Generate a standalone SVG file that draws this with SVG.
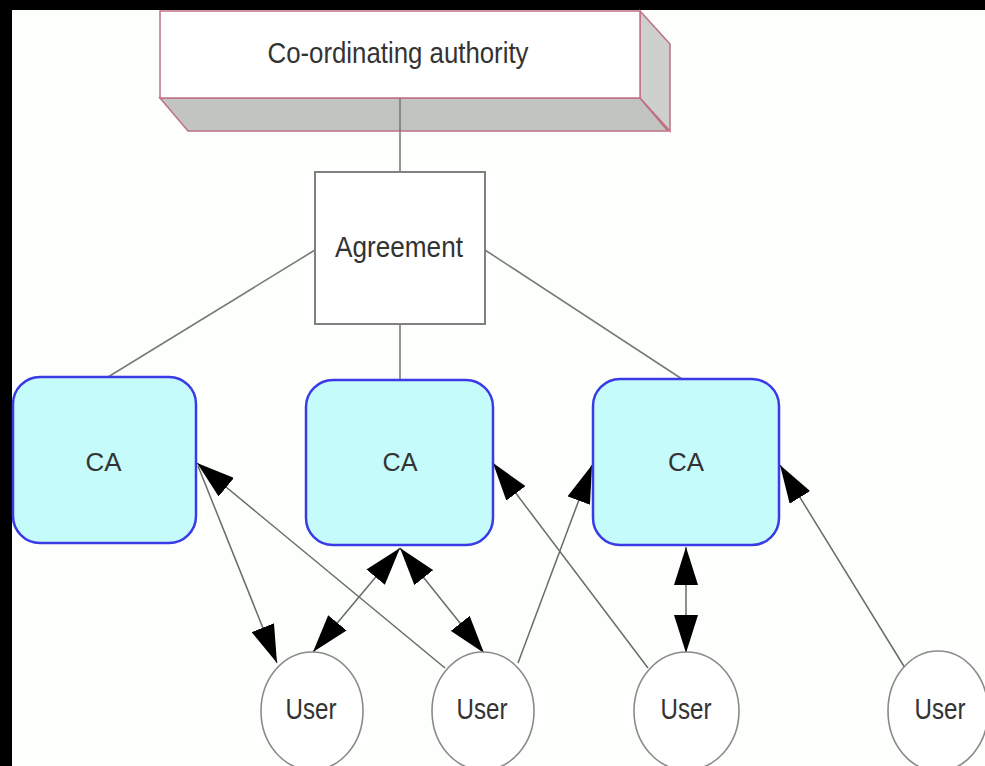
<svg xmlns="http://www.w3.org/2000/svg" width="985" height="766" viewBox="0 0 985 766">
  <style>
    .lbl { font-family: "Liberation Sans", Arial, sans-serif; fill: #333333; text-anchor: middle; }
    .ca-box { fill: #c6fbfb; stroke: #3a3ae6; stroke-width: 2.5; }
    .user { fill: #ffffff; stroke: #8a8a8a; stroke-width: 1.6; }
    .link { stroke: #7a7a7a; stroke-width: 1.6; fill: none; }
    .arrow { stroke: #6a6a6a; stroke-width: 1.5; fill: none; }
    .end { marker-end: url(#head); }
    .both { marker-start: url(#head); marker-end: url(#head); }
  </style>
  <defs>
    <marker id="head" markerUnits="userSpaceOnUse" markerWidth="38" markerHeight="24" refX="38" refY="12" orient="auto-start-reverse">
      <path d="M0,0 L38,12 L0,24 z" fill="#000000"/>
    </marker>
  </defs>

  <!-- frame -->
  <rect x="0" y="0" width="985" height="766" fill="#000000"/>
  <rect x="12" y="10" width="973" height="756" fill="#fcfffc"/>

  <!-- connectors -->
  <g id="connectors">
    <line class="link" x1="400" y1="98" x2="400" y2="172"/>
    <line class="link" x1="315" y1="250" x2="108" y2="377"/>
    <line class="link" x1="400" y1="324" x2="400" y2="380"/>
    <line class="link" x1="485" y1="250" x2="682" y2="379"/>

    <line class="arrow end" x1="198" y1="466" x2="277" y2="663"/>
    <line class="arrow end" x1="445" y1="668" x2="197" y2="463"/>
    <line class="arrow both" x1="400" y1="548" x2="313" y2="652"/>
    <line class="arrow both" x1="400" y1="548" x2="484" y2="653"/>
    <line class="arrow end" x1="518" y1="663" x2="592" y2="465"/>
    <line class="arrow end" x1="648" y1="668" x2="493" y2="463"/>
    <line class="arrow both" x1="686" y1="547" x2="686" y2="653"/>
    <line class="arrow end" x1="905" y1="668" x2="780" y2="465"/>
  </g>

  <!-- co-ordinating authority: raised box -->
  <g id="coordinating-authority">
    <polygon points="160,98 640,98 668,131 188,131" fill="#c2c4c2" stroke="#c07080" stroke-width="1.5"/>
    <polygon points="640,11 670,44 670,131 640,98" fill="#cdd0cd" stroke="#c07080" stroke-width="1.5"/>
    <line x1="640" y1="98" x2="668" y2="131" stroke="#c07080" stroke-width="1.2"/>
    <rect x="160" y="11" width="480" height="87" fill="#ffffff" stroke="#c07080" stroke-width="1.5"/>
    <text class="lbl" x="398" y="63" font-size="30" textLength="261" lengthAdjust="spacingAndGlyphs">Co-ordinating authority</text>
  </g>
  <line x1="400" y1="98" x2="400" y2="131" stroke="#7a7a7a" stroke-width="1.6"/>

  <g id="agreement">
    <rect x="315" y="172" width="170" height="152" fill="#ffffff" stroke="#808080" stroke-width="2"/>
    <text class="lbl" x="399" y="257" font-size="30" textLength="128" lengthAdjust="spacingAndGlyphs">Agreement</text>
  </g>

  <g id="ca-1">
    <rect class="ca-box" x="13" y="377" width="183" height="166" rx="27"/>
    <text class="lbl" x="103.5" y="471" font-size="26" textLength="36" lengthAdjust="spacingAndGlyphs">CA</text>
  </g>
  <g id="ca-2">
    <rect class="ca-box" x="306" y="380" width="187" height="165" rx="27"/>
    <text class="lbl" x="400" y="471" font-size="26" textLength="35" lengthAdjust="spacingAndGlyphs">CA</text>
  </g>
  <g id="ca-3">
    <rect class="ca-box" x="593" y="379" width="186" height="166" rx="27"/>
    <text class="lbl" x="686" y="471" font-size="26" textLength="36" lengthAdjust="spacingAndGlyphs">CA</text>
  </g>

  <g id="user-1">
    <ellipse class="user" cx="312" cy="711" rx="51" ry="59"/>
    <text class="lbl" x="311" y="719" font-size="29" textLength="51" lengthAdjust="spacingAndGlyphs">User</text>
  </g>
  <g id="user-2">
    <ellipse class="user" cx="483" cy="711" rx="51" ry="59"/>
    <text class="lbl" x="482" y="719" font-size="29" textLength="51" lengthAdjust="spacingAndGlyphs">User</text>
  </g>
  <g id="user-3">
    <ellipse class="user" cx="686.5" cy="711" rx="52.5" ry="59"/>
    <text class="lbl" x="686" y="719" font-size="29" textLength="51" lengthAdjust="spacingAndGlyphs">User</text>
  </g>
  <g id="user-4">
    <ellipse class="user" cx="938" cy="711" rx="50" ry="60"/>
    <text class="lbl" x="940" y="719" font-size="29" textLength="51" lengthAdjust="spacingAndGlyphs">User</text>
  </g>
</svg>
